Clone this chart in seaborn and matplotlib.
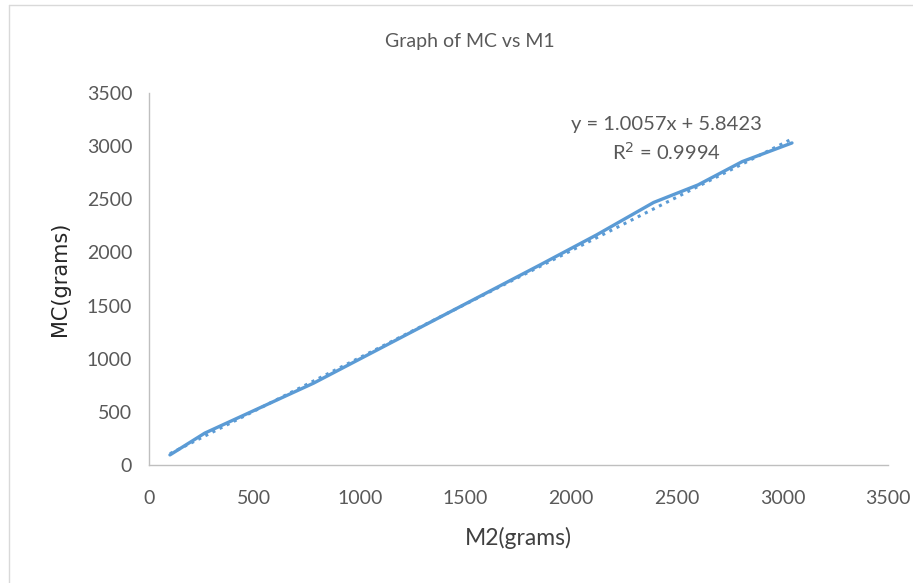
import numpy as np
import pandas as pd
import matplotlib
matplotlib.use("Agg")
import matplotlib.pyplot as plt
from matplotlib.lines import Line2D
import seaborn as sns

# data
m2 = [100, 265, 780, 1850, 2120, 2390, 2600, 2810, 3045]
mc = [95, 300, 770, 1880, 2165, 2470, 2635, 2855, 3030]

# trendline coefficients as printed on the chart
slope = 1.0057
intercept = 5.8423
r2 = 0.9994

ticks = [0, 500, 1000, 1500, 2000, 2500, 3000, 3500]

sns.set_style("white")
plt.rcParams['font.family'] = ['Lato', 'DejaVu Sans']

blue = '#5B9BD5'
grey = '#595959'

fig = plt.figure(figsize=(9.13, 5.83), dpi=100)
ax = fig.add_axes([0.163, 0.2024, 0.8097, 0.6381])

df = pd.DataFrame({'M2': m2, 'MC': mc})
sns.lineplot(data=df, x='M2', y='MC', ax=ax, color=blue, linewidth=2.4, sort=False)

# linear trendline
tx = np.array([min(m2), max(m2)])
trend = pd.DataFrame({'M2': tx, 'MC': slope * tx + intercept})
sns.lineplot(data=trend, x='M2', y='MC', ax=ax, color=blue, linewidth=2.2,
             linestyle=(0, (1, 1.6)))

ax.set_xlim(0, 3500)
ax.set_ylim(0, 3500)
ax.set_xticks(ticks)
ax.set_yticks(ticks)
ax.tick_params(axis='both', labelsize=14, colors=grey, length=0)
ax.tick_params(axis='x', pad=18)
ax.tick_params(axis='y', pad=12)
for s in ['top', 'right']:
    ax.spines[s].set_visible(False)
for s in ['left', 'bottom']:
    ax.spines[s].set_color('#bfbfbf')
    ax.spines[s].set_linewidth(1.0)

ax.set_xlabel('M2(grams)', fontsize=16.5, color='#404040', labelpad=14)
ax.set_ylabel('MC(grams)', fontsize=15, color='#262626', labelpad=12,
              family=['DejaVu Sans'])
fig.text(470 / 913, 1 - 42 / 583, 'Graph of MC vs M1', ha='center', va='center',
         fontsize=14, color=grey)

ax.text(2450, 3200, f'y = {slope}x + {intercept}', ha='center', va='center',
        fontsize=14.5, color=grey)
ax.text(2450, 2950, f'R$^2$ = {r2}', ha='center', va='center',
        fontsize=14.5, color=grey)

# outer frame of the chart area
fig.add_artist(Line2D([9 / 913, 9 / 913], [0, 1 - 5 / 583], color='#d9d9d9', lw=1))
fig.add_artist(Line2D([9 / 913, 1], [1 - 5 / 583, 1 - 5 / 583], color='#d9d9d9', lw=1))

fig.savefig('out.png', dpi=100)
